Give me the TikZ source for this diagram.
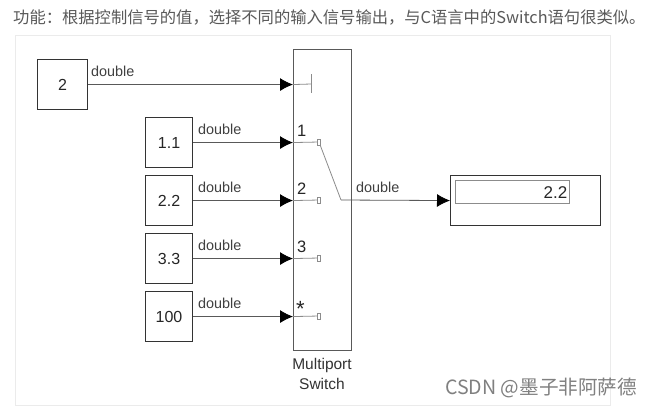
\documentclass[tikz,border=0pt]{standalone}
\usepackage{fontspec}
\setmainfont{Liberation Sans}
\newfontfamily\cjk{Noto Sans CJK SC}
\usetikzlibrary{arrows.meta}
\definecolor{ln}{gray}{0.35}
\definecolor{sw}{gray}{0.55}
\tikzset{x=1pt,y=-1pt,
 blockbox/.style={draw=black!80,line width=1.1pt,fill=white,inner sep=0pt,text=black!85,font=\fontsize{16}{16}\selectfont},
 sig/.style={draw=ln,line width=0.8pt,-{Latex[black,length=13pt,width=13pt]}},
 lab/.style={inner sep=0pt,anchor=base west,text=black!75,font=\fontsize{14.4}{15}\selectfont},
 portlab/.style={inner sep=0pt,anchor=base west,text=black!85,font=\fontsize{16.5}{16.5}\selectfont},
 pin/.style={draw=sw,line width=0.7pt,fill=white,minimum width=3.5pt,minimum height=6pt,inner sep=0pt},
 swl/.style={draw=sw,line width=0.8pt}}
\begin{document}
\begin{tikzpicture}
\useasboundingbox (0,0) rectangle (652,407);
\fill[white] (0,0) rectangle (652,407);
\node[draw=black!8,line width=0.8pt,minimum width=595pt,minimum height=370pt,inner sep=0pt,anchor=north west] (frame) at (15,35) {};
\node[inner sep=0pt,anchor=base west,text=black!65,font=\cjk\fontsize{16.3}{17}\selectfont] (title) at (13,23) {功能：根据控制信号的值，选择不同的输入信号输出，与C语言中的Switch语句很类似。};
\node[blockbox,minimum width=50pt,minimum height=50pt,anchor=north west] (c0) at (37,59) {2};
\node[blockbox,minimum width=47pt,minimum height=50pt,anchor=north west] (c1) at (145,117) {1.1};
\node[blockbox,minimum width=47pt,minimum height=50pt,anchor=north west] (c2) at (145,175) {2.2};
\node[blockbox,minimum width=47pt,minimum height=50pt,anchor=north west] (c3) at (145,233) {3.3};
\node[blockbox,minimum width=47pt,minimum height=50pt,anchor=north west] (c4) at (145,291) {100};
\node[draw=black!65,line width=1.1pt,fill=white,minimum width=58pt,minimum height=301pt,inner sep=0pt,anchor=north west] (sw) at (293,49) {};
\node[draw=black!80,line width=1.1pt,fill=white,minimum width=150pt,minimum height=50pt,inner sep=0pt,anchor=north west] (disp) at (450,175) {};
\node[draw=black!45,line width=0.9pt,fill=white,minimum width=114pt,minimum height=23pt,inner sep=0pt,anchor=north west] (dv) at (455,180) {};
\node[inner sep=0pt,anchor=base east,text=black!85,font=\fontsize{17}{17}\selectfont] (dvt) at (567.5,198) {2.2};
\coordinate (p0) at (sw.west |- c0);
\coordinate (p1) at (sw.west |- c1);
\coordinate (p2) at (sw.west |- c2);
\coordinate (p3) at (sw.west |- c3);
\coordinate (p4) at (sw.west |- c4);
\coordinate (in) at (disp.west |- c2);
\coordinate (bar) at (311,84);
\coordinate (j) at (341,200);
\node[pin] (q1) at (319,142) {};
\node[pin] (q2) at (319,200) {};
\node[pin] (q3) at (319,258) {};
\node[pin] (q4) at (319,316) {};
\draw[sig] (c0) -- (p0);
\draw[sig] (c1) -- (p1);
\draw[sig] (c2) -- (p2);
\draw[sig] (c3) -- (p3);
\draw[sig] (c4) -- (p4);
\draw[swl] (p0) -- (bar);
\draw[swl] (311,74) -- (311,93);
\draw[swl] (p1) -- (q1);
\draw[swl] (p2) -- (q2);
\draw[swl] (p3) -- (q3);
\draw[swl] (p4) -- (q4);
\draw[swl] (q1) -- (j);
\draw[sig] (j) -- (in);
\node[lab] (l0) at (91,76) {double};
\node[lab] (l1) at (198,134) {double};
\node[lab] (l2) at (198,192) {double};
\node[lab] (l3) at (198,250) {double};
\node[lab] (l4) at (198,308) {double};
\node[lab] (l5) at (356,192) {double};
\node[portlab] (n1) at (297,136.5) {1};
\node[portlab] (n2) at (297,194.5) {2};
\node[portlab] (n3) at (297,252.5) {3};
\node[portlab,font=\fontsize{22}{22}\selectfont] (n4) at (296,316) {*};
\node[inner sep=0pt,align=center,text=black!80,font=\fontsize{15.5}{20}\selectfont,anchor=north] (swl) at (322,358) {Multiport\\Switch};
\node[inner sep=0pt,anchor=base west,text=black!50,font=\cjk\fontsize{19.6}{20}\selectfont] (wm) at (445,394) {CSDN @墨子非阿萨德};
\end{tikzpicture}
\end{document}
